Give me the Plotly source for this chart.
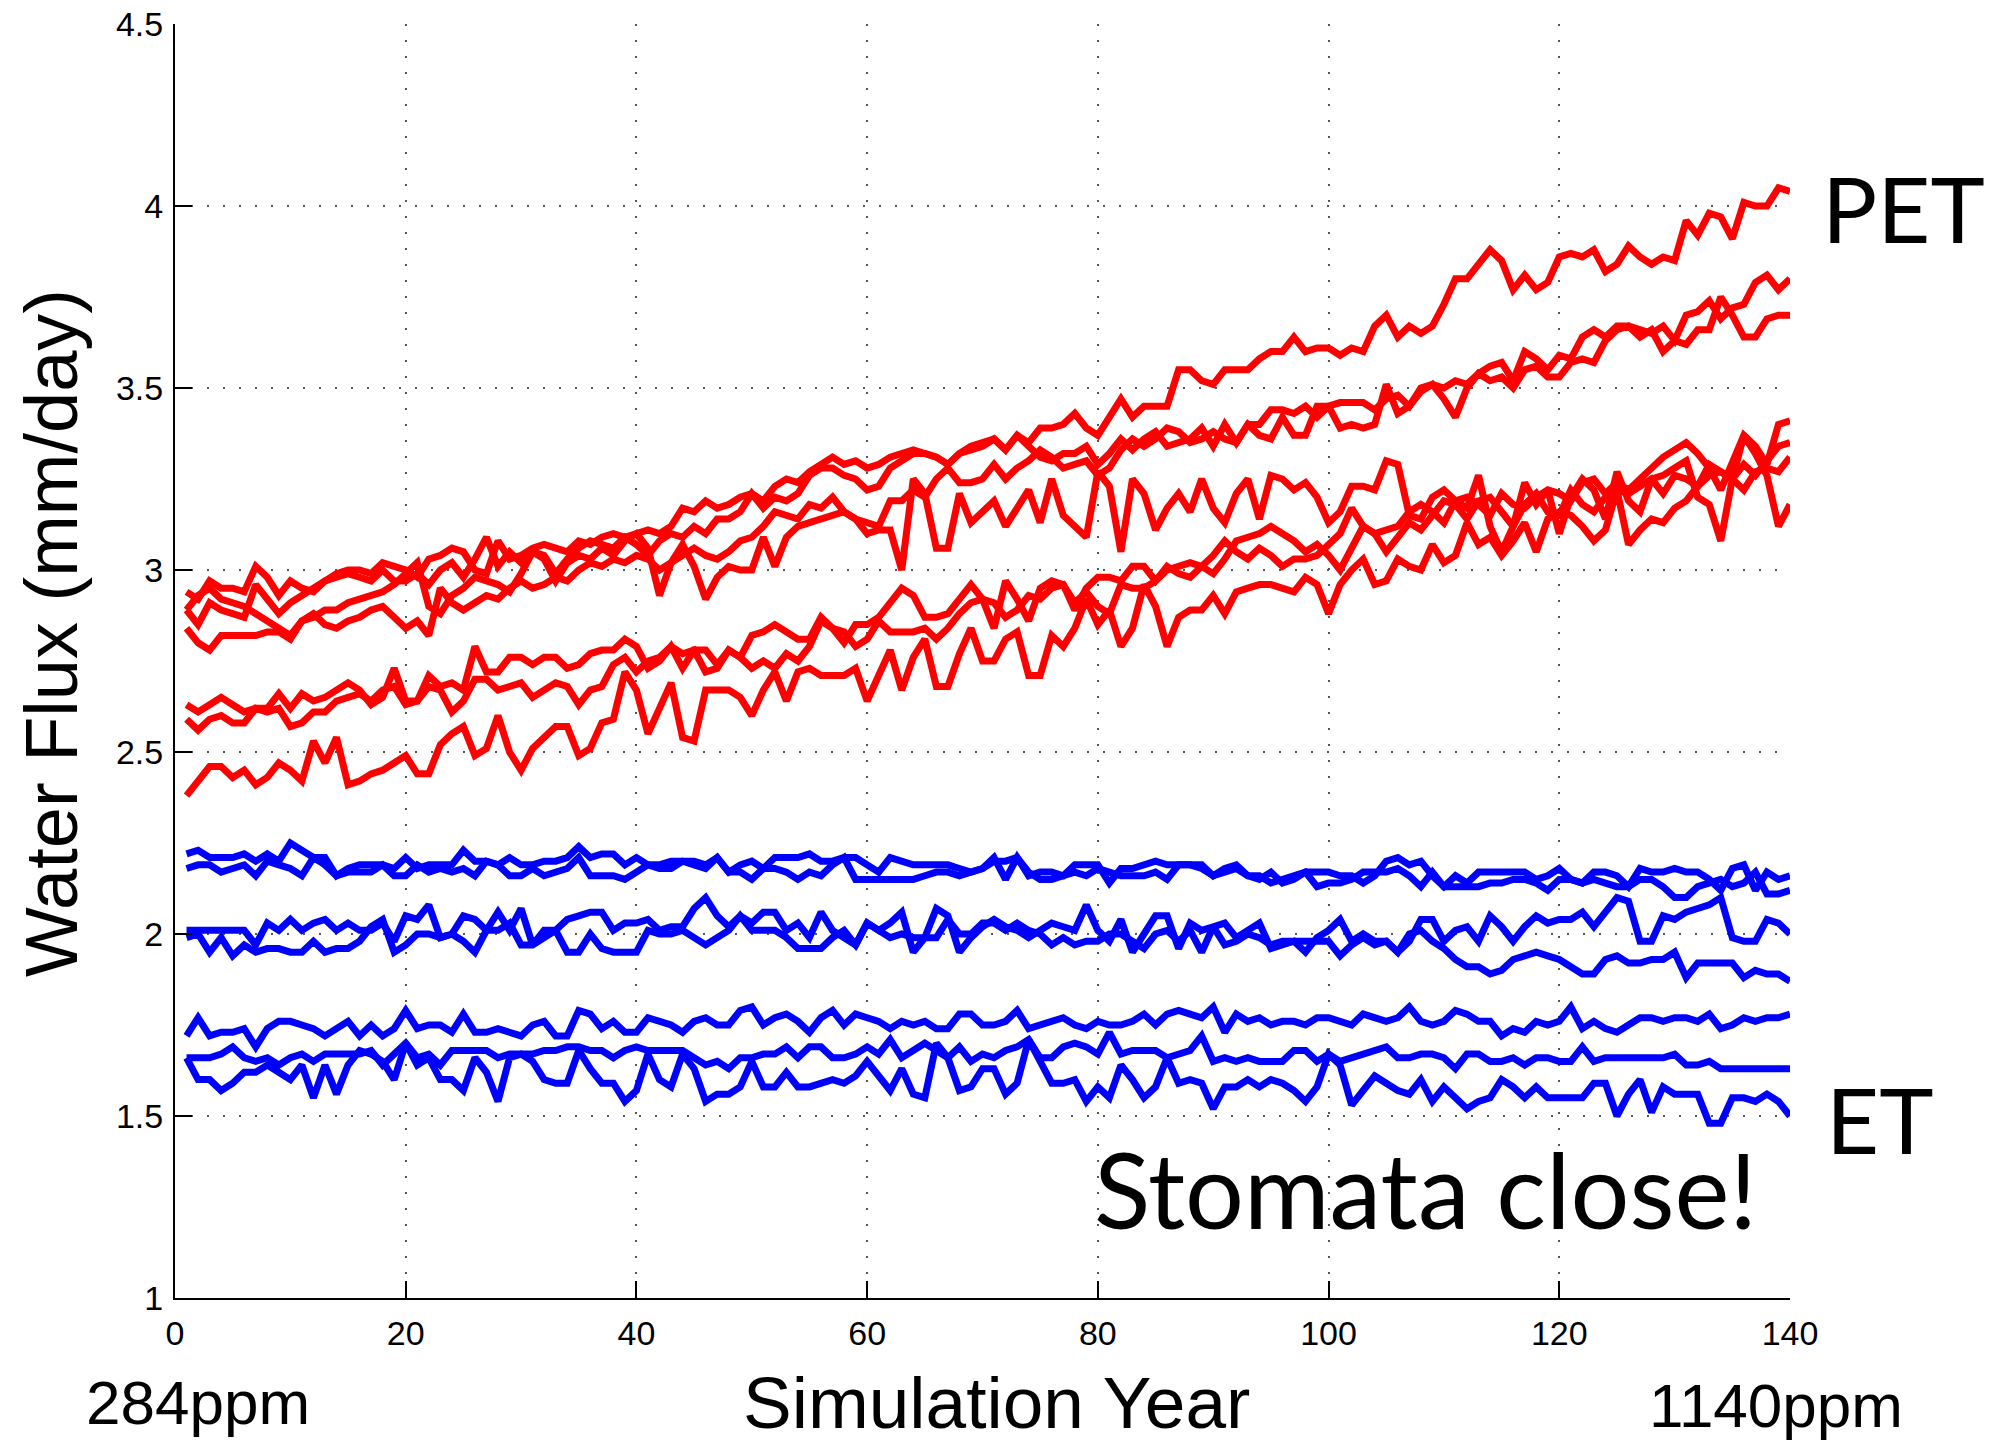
import plotly.graph_objects as go

years = list(range(1, 141))

# PET (red) series, mm/day
pet_1 = [2.94, 2.92, 2.97, 2.95, 2.95, 2.94, 3.01, 2.98, 2.93, 2.97,
         2.95, 2.94, 2.97, 2.99, 3.00, 3.00, 2.99, 3.02, 3.01, 3.00,
         2.98, 3.03, 3.04, 3.06, 3.05, 3.00, 2.99, 3.08, 3.03, 3.04,
         3.06, 3.07, 3.06, 3.05, 3.08, 3.07, 3.09, 3.10, 3.09, 3.10,
         3.11, 3.10, 3.12, 3.17, 3.16, 3.19, 3.17, 3.18, 3.20, 3.21,
         3.19, 3.23, 3.25, 3.24, 3.27, 3.29, 3.31, 3.29, 3.30, 3.28,
         3.29, 3.31, 3.32, 3.33, 3.32, 3.31, 3.29, 3.32, 3.34, 3.35,
         3.36, 3.33, 3.37, 3.35, 3.39, 3.39, 3.40, 3.43, 3.39, 3.37,
         3.42, 3.47, 3.42, 3.45, 3.45, 3.45, 3.55, 3.55, 3.52, 3.51,
         3.55, 3.55, 3.55, 3.58, 3.60, 3.60, 3.64, 3.60, 3.61, 3.61,
         3.59, 3.61, 3.60, 3.67, 3.70, 3.64, 3.67, 3.65, 3.67, 3.73,
         3.80, 3.80, 3.84, 3.88, 3.85, 3.77, 3.81, 3.77, 3.79, 3.86,
         3.87, 3.86, 3.88, 3.82, 3.84, 3.89, 3.86, 3.84, 3.86, 3.85,
         3.96, 3.92, 3.98, 3.97, 3.91, 4.01, 4.00, 4.00, 4.05, 4.04]
pet_2 = [2.89, 2.85, 2.91, 2.89, 2.88, 2.87, 2.96, 2.92, 2.88, 2.91,
         2.93, 2.95, 2.97, 2.98, 2.99, 2.98, 2.97, 3.00, 2.97, 2.97,
         2.99, 2.96, 3.00, 3.02, 2.98, 3.03, 3.09, 3.01, 3.05, 3.02,
         3.05, 3.04, 2.99, 3.03, 3.06, 3.08, 3.07, 3.06, 3.09, 3.07,
         3.04, 3.08, 3.10, 3.09, 3.12, 3.10, 3.14, 3.14, 3.16, 3.21,
         3.17, 3.20, 3.19, 3.21, 3.26, 3.28, 3.28, 3.26, 3.25, 3.22,
         3.23, 3.28, 3.30, 3.32, 3.32, 3.31, 3.29, 3.32, 3.33, 3.34,
         3.36, 3.33, 3.37, 3.34, 3.31, 3.30, 3.32, 3.32, 3.34, 3.29,
         3.32, 3.36, 3.33, 3.36, 3.38, 3.34, 3.35, 3.36, 3.39, 3.34,
         3.40, 3.35, 3.40, 3.40, 3.44, 3.44, 3.43, 3.45, 3.42, 3.45,
         3.46, 3.46, 3.46, 3.44, 3.47, 3.48, 3.45, 3.50, 3.51, 3.50,
         3.52, 3.51, 3.54, 3.56, 3.57, 3.52, 3.60, 3.58, 3.55, 3.59,
         3.58, 3.64, 3.66, 3.64, 3.67, 3.67, 3.66, 3.65, 3.67, 3.63,
         3.70, 3.71, 3.74, 3.69, 3.72, 3.73, 3.79, 3.81, 3.77, 3.80]
pet_3 = [2.89, 2.93, 2.95, 2.92, 2.91, 2.90, 2.88, 2.86, 2.84, 2.82,
         2.86, 2.88, 2.85, 2.84, 2.86, 2.87, 2.89, 2.90, 2.87, 2.84,
         2.86, 2.82, 2.95, 2.91, 2.89, 2.91, 2.93, 2.92, 2.95, 2.97,
         2.95, 2.96, 2.98, 2.97, 3.00, 3.02, 3.01, 3.03, 3.02, 3.04,
         3.03, 3.00, 3.02, 3.04, 3.06, 3.04, 3.03, 3.05, 3.08, 3.09,
         3.12, 3.16, 3.15, 3.14, 3.18, 3.17, 3.20, 3.16, 3.14, 3.13,
         3.12, 3.19, 3.19, 3.22, 3.20, 3.25, 3.28, 3.24, 3.24, 3.25,
         3.29, 3.25, 3.28, 3.30, 3.33, 3.31, 3.28, 3.29, 3.30, 3.26,
         3.28, 3.33, 3.36, 3.34, 3.36, 3.39, 3.38, 3.35, 3.36, 3.38,
         3.36, 3.35, 3.40, 3.37, 3.36, 3.42, 3.37, 3.37, 3.45, 3.45,
         3.39, 3.40, 3.39, 3.40, 3.51, 3.43, 3.45, 3.49, 3.51, 3.47,
         3.42, 3.50, 3.54, 3.52, 3.53, 3.50, 3.55, 3.56, 3.53, 3.53,
         3.57, 3.58, 3.57, 3.63, 3.66, 3.67, 3.64, 3.66, 3.60, 3.63,
         3.62, 3.66, 3.66, 3.75, 3.70, 3.64, 3.64, 3.69, 3.70, 3.70]
pet_4 = [2.84, 2.80, 2.78, 2.82, 2.82, 2.82, 2.82, 2.83, 2.83, 2.81,
         2.86, 2.87, 2.89, 2.89, 2.91, 2.92, 2.93, 2.94, 2.96, 2.99,
         3.02, 2.90, 2.88, 2.93, 2.95, 2.98, 2.97, 2.96, 2.94, 2.99,
         3.05, 3.03, 2.97, 3.02, 3.04, 3.03, 3.06, 3.04, 3.08, 3.10,
         3.06, 2.93, 3.02, 3.07, 3.01, 2.92, 2.98, 3.01, 3.00, 3.00,
         3.09, 3.01, 3.09, 3.12, 3.13, 3.14, 3.15, 3.16, 3.14, 3.10,
         3.11, 3.11, 3.00, 3.25, 3.21, 3.06, 3.06, 3.21, 3.13, 3.16,
         3.19, 3.12, 3.17, 3.22, 3.13, 3.25, 3.15, 3.12, 3.09, 3.27,
         3.23, 3.05, 3.25, 3.21, 3.11, 3.17, 3.21, 3.16, 3.25, 3.17,
         3.13, 3.21, 3.25, 3.14, 3.26, 3.25, 3.22, 3.24, 3.20, 3.13,
         3.16, 3.23, 3.23, 3.22, 3.30, 3.29, 3.15, 3.14, 3.20, 3.22,
         3.19, 3.17, 3.26, 3.12, 3.05, 3.12, 3.24, 3.18, 3.22, 3.10,
         3.20, 3.25, 3.22, 3.14, 3.27, 3.19, 3.16, 3.25, 3.26, 3.28,
         3.30, 3.20, 3.18, 3.08, 3.25, 3.37, 3.32, 3.26, 3.12, 3.18]
pet_5 = [2.63, 2.61, 2.63, 2.65, 2.63, 2.61, 2.62, 2.62, 2.66, 2.62,
         2.66, 2.64, 2.65, 2.67, 2.69, 2.67, 2.63, 2.65, 2.73, 2.64,
         2.64, 2.71, 2.68, 2.69, 2.67, 2.79, 2.72, 2.72, 2.76, 2.76,
         2.74, 2.76, 2.76, 2.73, 2.74, 2.77, 2.78, 2.78, 2.81, 2.79,
         2.73, 2.75, 2.79, 2.73, 2.78, 2.78, 2.74, 2.78, 2.76, 2.82,
         2.83, 2.85, 2.83, 2.81, 2.81, 2.87, 2.84, 2.80, 2.85, 2.85,
         2.87, 2.91, 2.95, 2.93, 2.87, 2.87, 2.88, 2.92, 2.96, 2.92,
         2.84, 2.97, 2.92, 2.86, 2.95, 2.97, 2.96, 2.89, 2.95, 2.98,
         2.98, 2.97, 3.01, 3.01, 2.97, 3.01, 2.99, 2.98, 3.01, 3.04,
         3.08, 3.05, 3.03, 3.06, 3.04, 3.01, 3.03, 3.03, 3.04, 3.07,
         3.10, 3.17, 3.12, 3.10, 3.11, 3.12, 3.16, 3.18, 3.16, 3.13,
         3.19, 3.20, 3.18, 3.15, 3.21, 3.18, 3.17, 3.20, 3.22, 3.21,
         3.19, 3.24, 3.25, 3.21, 3.24, 3.22, 3.25, 3.28, 3.31, 3.33,
         3.35, 3.32, 3.28, 3.22, 3.30, 3.37, 3.34, 3.29, 3.40, 3.41]
pet_6 = [2.59, 2.56, 2.59, 2.60, 2.58, 2.58, 2.62, 2.61, 2.62, 2.57,
         2.58, 2.61, 2.61, 2.64, 2.65, 2.66, 2.64, 2.67, 2.68, 2.63,
         2.64, 2.68, 2.67, 2.61, 2.64, 2.70, 2.70, 2.67, 2.68, 2.69,
         2.65, 2.67, 2.69, 2.68, 2.63, 2.67, 2.68, 2.74, 2.76, 2.72,
         2.75, 2.76, 2.79, 2.77, 2.78, 2.72, 2.73, 2.78, 2.76, 2.73,
         2.75, 2.73, 2.77, 2.75, 2.79, 2.86, 2.84, 2.83, 2.79, 2.81,
         2.86, 2.83, 2.83, 2.83, 2.84, 2.81, 2.84, 2.88, 2.91, 2.92,
         2.91, 2.87, 2.89, 2.93, 2.92, 2.95, 2.96, 2.91, 2.94, 2.90,
         2.88, 2.96, 2.95, 2.95, 2.97, 3.00, 3.01, 3.02, 3.01, 2.99,
         3.03, 3.08, 3.09, 3.10, 3.12, 3.10, 3.08, 3.05, 3.07, 3.04,
         3.00, 3.06, 3.12, 3.10, 3.05, 3.09, 3.13, 3.11, 3.15, 3.19,
         3.18, 3.14, 3.19, 3.20, 3.16, 3.12, 3.18, 3.21, 3.16, 3.15,
         3.22, 3.18, 3.16, 3.20, 3.22, 3.21, 3.23, 3.25, 3.21, 3.26,
         3.25, 3.23, 3.26, 3.27, 3.25, 3.29, 3.26, 3.30, 3.34, 3.35]
pet_7 = [2.38, 2.42, 2.46, 2.46, 2.43, 2.45, 2.41, 2.43, 2.47, 2.45,
         2.42, 2.53, 2.47, 2.54, 2.41, 2.42, 2.44, 2.45, 2.47, 2.49,
         2.44, 2.44, 2.52, 2.55, 2.57, 2.49, 2.51, 2.60, 2.50, 2.45,
         2.51, 2.54, 2.57, 2.57, 2.49, 2.51, 2.58, 2.59, 2.72, 2.67,
         2.55, 2.62, 2.69, 2.54, 2.53, 2.67, 2.67, 2.67, 2.65, 2.60,
         2.67, 2.72, 2.64, 2.72, 2.73, 2.71, 2.71, 2.71, 2.73, 2.64,
         2.71, 2.78, 2.67, 2.76, 2.81, 2.68, 2.68, 2.77, 2.84, 2.75,
         2.75, 2.81, 2.83, 2.71, 2.71, 2.82, 2.79, 2.84, 2.92, 2.85,
         2.89, 2.79, 2.84, 2.96, 2.90, 2.79, 2.87, 2.89, 2.89, 2.93,
         2.88, 2.94, 2.95, 2.96, 2.96, 2.95, 2.94, 2.98, 2.96, 2.88,
         2.96, 3.00, 3.03, 2.96, 2.97, 3.03, 3.01, 3.00, 3.07, 3.02,
         3.04, 3.13, 3.07, 3.09, 3.04, 3.08, 3.13, 3.05, 3.14, 3.16,
         3.15, 3.12, 3.08, 3.11, 3.22, 3.07, 3.11, 3.14, 3.13, 3.17,
         3.19, 3.23, 3.29, 3.27, 3.25, 3.22, 3.27, 3.28, 3.27, 3.31]

# ET (blue) series, mm/day
et_1 = [2.22, 2.23, 2.21, 2.21, 2.21, 2.22, 2.20, 2.22, 2.20, 2.25,
        2.23, 2.21, 2.21, 2.16, 2.18, 2.19, 2.19, 2.19, 2.18, 2.21,
        2.18, 2.19, 2.19, 2.19, 2.23, 2.20, 2.20, 2.19, 2.21, 2.19,
        2.19, 2.20, 2.20, 2.21, 2.24, 2.21, 2.22, 2.22, 2.19, 2.21,
        2.19, 2.19, 2.20, 2.20, 2.19, 2.18, 2.21, 2.17, 2.19, 2.20,
        2.18, 2.21, 2.21, 2.21, 2.22, 2.20, 2.20, 2.21, 2.21, 2.19,
        2.17, 2.21, 2.20, 2.19, 2.19, 2.19, 2.19, 2.18, 2.17, 2.18,
        2.21, 2.15, 2.21, 2.16, 2.17, 2.17, 2.16, 2.19, 2.19, 2.19,
        2.14, 2.18, 2.18, 2.19, 2.20, 2.19, 2.19, 2.19, 2.19, 2.16,
        2.18, 2.19, 2.16, 2.15, 2.17, 2.14, 2.15, 2.17, 2.17, 2.17,
        2.16, 2.16, 2.14, 2.16, 2.20, 2.21, 2.19, 2.20, 2.16, 2.13,
        2.16, 2.14, 2.17, 2.17, 2.17, 2.17, 2.17, 2.15, 2.16, 2.18,
        2.15, 2.14, 2.17, 2.17, 2.16, 2.13, 2.18, 2.17, 2.17, 2.18,
        2.17, 2.17, 2.15, 2.12, 2.18, 2.19, 2.12, 2.17, 2.15, 2.16]
et_2 = [2.18, 2.19, 2.19, 2.17, 2.18, 2.19, 2.16, 2.20, 2.19, 2.18,
        2.16, 2.21, 2.19, 2.16, 2.17, 2.17, 2.17, 2.19, 2.16, 2.16,
        2.19, 2.17, 2.18, 2.17, 2.18, 2.16, 2.20, 2.19, 2.16, 2.16,
        2.18, 2.16, 2.17, 2.18, 2.21, 2.16, 2.16, 2.16, 2.15, 2.17,
        2.19, 2.18, 2.18, 2.20, 2.20, 2.19, 2.21, 2.17, 2.17, 2.15,
        2.18, 2.18, 2.17, 2.15, 2.17, 2.16, 2.19, 2.21, 2.15, 2.15,
        2.15, 2.15, 2.15, 2.15, 2.16, 2.17, 2.17, 2.16, 2.17, 2.18,
        2.20, 2.20, 2.21, 2.17, 2.15, 2.15, 2.16, 2.17, 2.16, 2.18,
        2.17, 2.16, 2.16, 2.16, 2.17, 2.15, 2.19, 2.19, 2.18, 2.16,
        2.17, 2.18, 2.16, 2.16, 2.14, 2.15, 2.16, 2.17, 2.13, 2.14,
        2.14, 2.15, 2.17, 2.17, 2.17, 2.18, 2.16, 2.13, 2.17, 2.13,
        2.13, 2.13, 2.13, 2.14, 2.14, 2.15, 2.15, 2.14, 2.12, 2.15,
        2.15, 2.14, 2.15, 2.14, 2.13, 2.13, 2.15, 2.15, 2.13, 2.10,
        2.10, 2.13, 2.14, 2.15, 2.13, 2.14, 2.17, 2.11, 2.11, 2.12]
et_3 = [2.01, 2.01, 2.01, 2.01, 2.01, 2.01, 1.97, 2.03, 2.01, 2.04,
        2.01, 2.03, 2.04, 2.01, 2.03, 2.01, 2.01, 2.03, 1.98, 2.05,
        2.04, 2.08, 1.99, 2.00, 2.05, 2.04, 2.01, 2.06, 2.01, 2.07,
        1.97, 2.01, 2.01, 2.04, 2.05, 2.06, 2.06, 2.01, 2.03, 2.03,
        2.04, 2.01, 2.02, 2.02, 2.07, 2.10, 2.05, 2.02, 2.05, 2.03,
        2.06, 2.06, 2.01, 2.03, 1.99, 2.06, 2.01, 1.99, 1.97, 2.03,
        2.01, 2.03, 2.06, 1.95, 1.99, 2.07, 2.05, 1.95, 1.99, 2.02,
        2.04, 2.02, 2.01, 1.99, 2.01, 2.03, 2.02, 2.01, 2.08, 2.01,
        1.98, 2.04, 1.95, 2.00, 2.05, 2.05, 1.96, 2.03, 2.01, 2.02,
        2.03, 1.99, 2.01, 2.03, 1.96, 1.97, 1.98, 1.95, 1.99, 2.01,
        2.04, 1.98, 2.00, 1.98, 1.98, 1.95, 1.98, 2.04, 2.04, 1.98,
        2.01, 2.02, 1.98, 2.05, 2.02, 1.98, 2.02, 2.05, 2.03, 2.04,
        2.04, 2.06, 2.02, 2.06, 2.10, 2.09, 1.98, 1.98, 2.05, 2.04,
        2.06, 2.07, 2.08, 2.10, 1.99, 1.98, 1.98, 2.04, 2.03, 2.00]
et_4 = [1.99, 2.00, 1.95, 1.99, 1.94, 1.97, 1.95, 1.96, 1.96, 1.95,
        1.95, 1.98, 1.95, 1.96, 1.96, 1.98, 2.02, 2.04, 1.95, 1.97,
        2.00, 2.00, 1.99, 2.00, 1.98, 1.95, 2.01, 2.01, 2.03, 1.97,
        1.97, 1.99, 2.01, 1.95, 1.95, 2.00, 1.96, 1.95, 1.95, 1.95,
        2.01, 2.00, 2.00, 2.01, 1.99, 1.97, 1.99, 2.01, 2.05, 2.01,
        2.01, 2.01, 1.99, 1.96, 1.96, 1.96, 1.99, 2.01, 1.97, 2.03,
        2.01, 1.99, 2.00, 1.99, 1.99, 1.99, 2.04, 2.00, 2.00, 2.03,
        2.03, 2.01, 2.03, 2.01, 2.00, 1.97, 1.99, 1.97, 1.98, 1.98,
        2.00, 2.00, 1.98, 1.96, 2.00, 2.01, 1.98, 2.01, 1.95, 2.02,
        1.97, 1.98, 2.00, 1.99, 1.97, 1.98, 1.98, 1.98, 1.98, 1.98,
        1.94, 1.97, 1.99, 1.97, 1.98, 1.95, 2.00, 2.01, 1.98, 1.96,
        1.93, 1.91, 1.91, 1.89, 1.90, 1.93, 1.94, 1.95, 1.94, 1.93,
        1.91, 1.89, 1.89, 1.93, 1.94, 1.92, 1.92, 1.93, 1.93, 1.95,
        1.88, 1.92, 1.92, 1.92, 1.92, 1.88, 1.90, 1.89, 1.89, 1.87]
et_5 = [1.72, 1.77, 1.72, 1.73, 1.73, 1.74, 1.69, 1.74, 1.76, 1.76,
        1.75, 1.74, 1.72, 1.74, 1.76, 1.72, 1.75, 1.72, 1.74, 1.79,
        1.74, 1.75, 1.75, 1.73, 1.78, 1.73, 1.73, 1.74, 1.73, 1.72,
        1.75, 1.76, 1.72, 1.72, 1.79, 1.78, 1.74, 1.76, 1.73, 1.73,
        1.77, 1.76, 1.75, 1.73, 1.76, 1.77, 1.75, 1.75, 1.79, 1.80,
        1.75, 1.77, 1.78, 1.76, 1.73, 1.77, 1.79, 1.75, 1.78, 1.77,
        1.76, 1.74, 1.76, 1.75, 1.76, 1.74, 1.74, 1.78, 1.78, 1.75,
        1.75, 1.76, 1.79, 1.74, 1.75, 1.76, 1.77, 1.75, 1.74, 1.76,
        1.75, 1.75, 1.76, 1.78, 1.75, 1.78, 1.79, 1.78, 1.77, 1.80,
        1.73, 1.78, 1.76, 1.77, 1.75, 1.76, 1.76, 1.75, 1.77, 1.77,
        1.76, 1.75, 1.78, 1.77, 1.76, 1.77, 1.80, 1.76, 1.75, 1.76,
        1.79, 1.78, 1.76, 1.76, 1.72, 1.74, 1.73, 1.76, 1.75, 1.76,
        1.80, 1.74, 1.76, 1.74, 1.73, 1.75, 1.77, 1.77, 1.76, 1.77,
        1.77, 1.76, 1.78, 1.74, 1.75, 1.77, 1.76, 1.77, 1.77, 1.78]
et_6 = [1.66, 1.66, 1.66, 1.67, 1.69, 1.66, 1.65, 1.66, 1.64, 1.66,
        1.67, 1.65, 1.67, 1.67, 1.67, 1.67, 1.68, 1.64, 1.67, 1.70,
        1.66, 1.67, 1.64, 1.68, 1.68, 1.68, 1.68, 1.66, 1.67, 1.67,
        1.67, 1.68, 1.68, 1.69, 1.69, 1.68, 1.68, 1.66, 1.68, 1.69,
        1.68, 1.68, 1.68, 1.68, 1.66, 1.64, 1.65, 1.63, 1.66, 1.66,
        1.67, 1.67, 1.69, 1.66, 1.69, 1.69, 1.66, 1.66, 1.67, 1.69,
        1.67, 1.71, 1.66, 1.68, 1.70, 1.68, 1.66, 1.69, 1.65, 1.67,
        1.66, 1.68, 1.69, 1.71, 1.66, 1.66, 1.69, 1.70, 1.69, 1.67,
        1.73, 1.67, 1.68, 1.68, 1.68, 1.66, 1.67, 1.68, 1.72, 1.65,
        1.66, 1.65, 1.66, 1.65, 1.65, 1.65, 1.68, 1.68, 1.65, 1.67,
        1.65, 1.66, 1.67, 1.68, 1.69, 1.66, 1.66, 1.67, 1.67, 1.66,
        1.63, 1.67, 1.67, 1.65, 1.65, 1.66, 1.64, 1.66, 1.66, 1.65,
        1.65, 1.69, 1.65, 1.66, 1.66, 1.66, 1.66, 1.66, 1.66, 1.67,
        1.64, 1.64, 1.65, 1.63, 1.63, 1.63, 1.63, 1.63, 1.63, 1.63]
et_7 = [1.66, 1.60, 1.60, 1.57, 1.59, 1.62, 1.62, 1.64, 1.62, 1.60,
        1.64, 1.55, 1.64, 1.56, 1.64, 1.68, 1.67, 1.65, 1.60, 1.70,
        1.64, 1.66, 1.60, 1.60, 1.57, 1.66, 1.62, 1.54, 1.66, 1.67,
        1.65, 1.60, 1.59, 1.59, 1.68, 1.63, 1.59, 1.59, 1.54, 1.57,
        1.67, 1.60, 1.58, 1.67, 1.63, 1.54, 1.56, 1.56, 1.58, 1.65,
        1.58, 1.58, 1.62, 1.58, 1.58, 1.59, 1.60, 1.59, 1.61, 1.65,
        1.61, 1.57, 1.63, 1.56, 1.55, 1.70, 1.66, 1.57, 1.58, 1.63,
        1.63, 1.56, 1.59, 1.71, 1.65, 1.59, 1.59, 1.60, 1.54, 1.58,
        1.55, 1.64, 1.60, 1.55, 1.58, 1.66, 1.59, 1.60, 1.59, 1.52,
        1.58, 1.58, 1.60, 1.58, 1.60, 1.59, 1.57, 1.54, 1.58, 1.67,
        1.64, 1.53, 1.57, 1.61, 1.59, 1.57, 1.56, 1.60, 1.54, 1.58,
        1.55, 1.52, 1.54, 1.55, 1.60, 1.58, 1.55, 1.58, 1.55, 1.55,
        1.55, 1.55, 1.59, 1.59, 1.50, 1.56, 1.60, 1.51, 1.58, 1.56,
        1.56, 1.56, 1.48, 1.48, 1.55, 1.55, 1.54, 1.56, 1.54, 1.50]

pet_series = [pet_1, pet_2, pet_3, pet_4, pet_5, pet_6, pet_7]
et_series = [et_1, et_2, et_3, et_4, et_5, et_6, et_7]

x_ticks = [0, 20, 40, 60, 80, 100, 120, 140]
y_ticks = [1, 1.5, 2, 2.5, 3, 3.5, 4, 4.5]

fig = go.Figure()
for s in et_series:
    fig.add_trace(go.Scatter(x=years, y=s, mode="lines",
                             line=dict(color="#0000FF", width=7),
                             showlegend=False, hoverinfo="skip"))
for s in pet_series:
    fig.add_trace(go.Scatter(x=years, y=s, mode="lines",
                             line=dict(color="#FF0000", width=7),
                             showlegend=False, hoverinfo="skip"))

L, R, T, B = 175, 199, 24, 145
W, H = 1989, 1443
pw, ph = W - L - R, H - T - B


def px(xp):
    return (xp - L) / pw


def py(yp):
    return (H - B - yp) / ph


axis_font = dict(family="Liberation Sans, Arial, Helvetica", size=34, color="black")
common = dict(showline=True, linecolor="black", linewidth=2,
              ticks="inside", ticklen=17, tickwidth=2, tickcolor="black",
              showgrid=True, gridcolor="#555555", gridwidth=2, griddash="2px,14px",
              zeroline=False, tickfont=axis_font, mirror=False)

fig.update_xaxes(range=[0, 140], tickvals=x_ticks, ticklabelstandoff=4, **common)
fig.update_yaxes(range=[1, 4.5], tickvals=y_ticks,
                 ticktext=[("%g" % v) for v in y_ticks], ticklabelstandoff=3, **common)

helv = "Liberation Sans, Arial, Helvetica"
gill = "Gill Sans, Gill Sans MT, Lato, sans-serif"
annots = [
    dict(text="Water Flux (mm/day)", x=px(51), y=py(633), textangle=-90,
         font=dict(family=helv, size=74, color="black")),
    dict(text="Simulation Year", x=px(996), y=py(1402),
         font=dict(family=helv, size=73, color="black")),
    dict(text="284ppm", x=px(198), y=py(1402),
         font=dict(family=helv, size=62, color="black")),
    dict(text="1140ppm", x=px(1776), y=py(1405),
         font=dict(family=helv, size=62, color="black")),
    dict(text="PET", x=px(1903), y=py(208),
         font=dict(family=gill, size=92, color="black")),
    dict(text="ET", x=px(1879), y=py(1118),
         font=dict(family=gill, size=92, color="black")),
    dict(text="Stomata close!", x=px(1425), y=py(1188),
         font=dict(family=gill, size=104, color="black")),
]
for a in annots:
    fig.add_annotation(xref="paper", yref="paper", showarrow=False,
                       xanchor="center", yanchor="middle", **a)

fig.update_layout(width=W, height=H,
                  margin=dict(l=L, r=R, t=T, b=B, autoexpand=False),
                  paper_bgcolor="white", plot_bgcolor="white")

fig.write_html("out.html")
